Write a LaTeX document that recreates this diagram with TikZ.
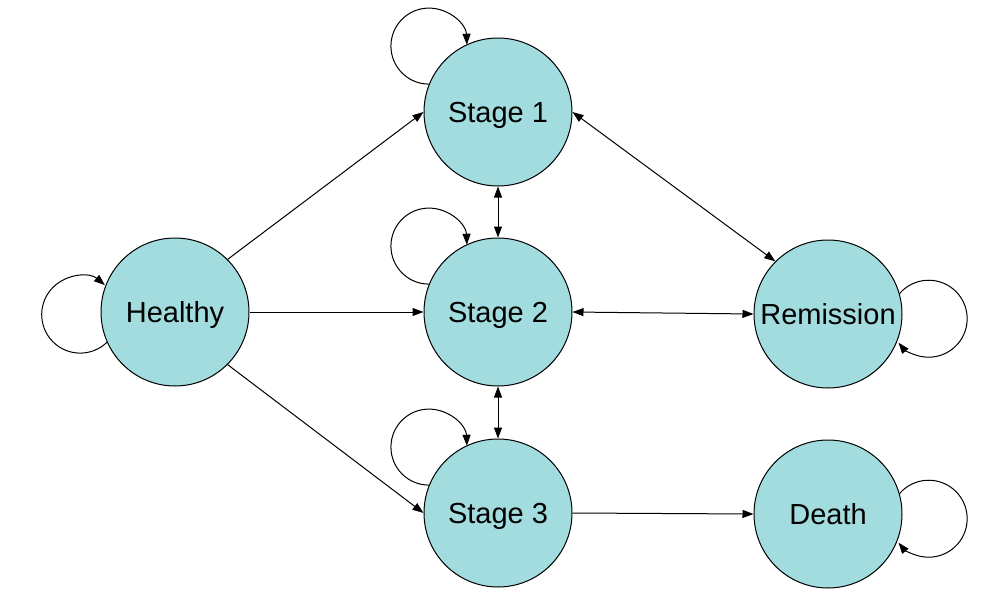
\documentclass[tikz,border=0pt]{standalone}
\usepackage{fontspec}
\setmainfont{Liberation Sans}
\usetikzlibrary{arrows.meta}
\definecolor{statefill}{RGB}{162,220,222}
\begin{document}
\begin{tikzpicture}[x=1pt,y=-1pt,
  state/.style={circle,draw=black,line width=1pt,fill=statefill,minimum size=148pt,inner sep=0pt,
    text height=21pt,text depth=0pt,font=\fontsize{29}{34}\selectfont},
  edge/.style={line width=1pt,-{Triangle[length=11pt,width=8pt]}},
  bedge/.style={line width=1pt,{Triangle[length=11pt,width=8pt]}-{Triangle[length=11pt,width=8pt]}}]
\useasboundingbox (0,0) rectangle (999,605);
\node[state] (h) at (175,312) {Healthy};
\node[state] (s1) at (498,112) {Stage 1};
\node[state] (s2) at (498,312) {Stage 2};
\node[state] (s3) at (498,513) {Stage 3};
\node[state] (rem) at (828,314) {Remission};
\node[state] (d) at (828,514) {Death};
% transitions
\draw[edge] (h.45) -- (s1.180);
\draw[edge] (h.east) -- (s2.west);
\draw[edge] (h.-45) -- (s3.180);
\draw[bedge] (s1.south) -- (s2.north);
\draw[bedge] (s2.south) -- (s3.north);
\draw[bedge] (s1.east) -- (rem.135);
\draw[bedge] (s2.east) -- (rem.west);
\draw[edge] (s3.east) -- (d.west);
% self loops
\draw[edge] (h.204) arc[start angle=46,end angle=310,radius=38.5];
\draw[edge] (s1.158) arc[start angle=90,end angle=358,radius=38];
\draw[edge] (s2.158) arc[start angle=90,end angle=358,radius=38];
\draw[edge] (s3.158) arc[start angle=90,end angle=358,radius=38];
\draw[edge] (rem.16) arc[start angle=-139,end angle=141.5,radius=38.5];
\draw[edge] (d.16) arc[start angle=-139,end angle=141.5,radius=38.5];
\end{tikzpicture}
\end{document}
